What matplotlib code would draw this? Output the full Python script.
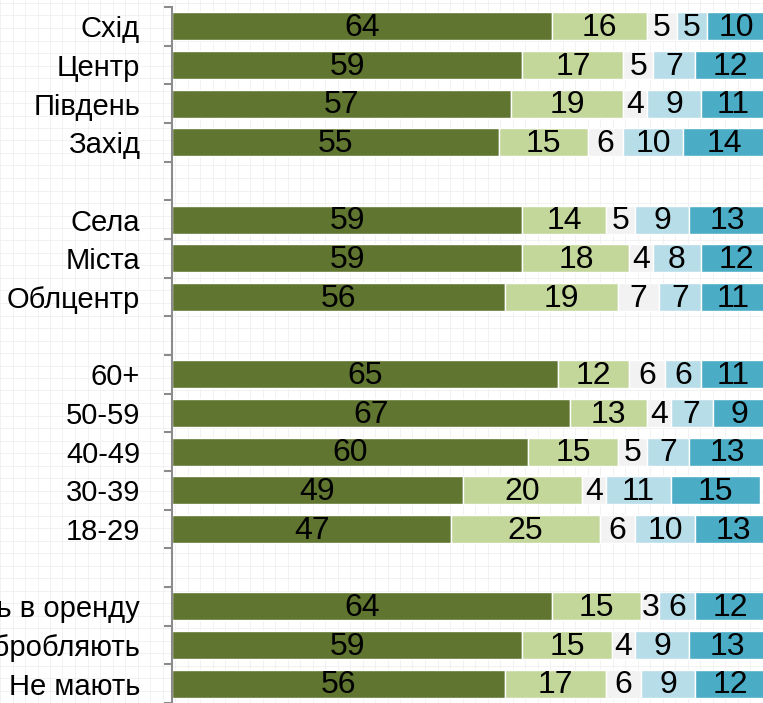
import matplotlib.pyplot as plt
import numpy as np

# rows top to bottom, "" marks the blank gap rows
labels = ["Схід", "Центр", "Південь", "Захід", "",
          "Села", "Міста", "Облцентр", "",
          "60+", "50-59", "40-49", "30-39", "18-29", "",
          "Здають в оренду", "Обробляють", "Не мають"]

s1 = [64, 59, 57, 55, None, 59, 59, 56, None, 65, 67, 60, 49, 47, None, 64, 59, 56]
s2 = [16, 17, 19, 15, None, 14, 18, 19, None, 12, 13, 15, 20, 25, None, 15, 15, 17]
s3 = [5, 5, 4, 6, None, 5, 4, 7, None, 6, 4, 5, 4, 6, None, 3, 4, 6]
s4 = [5, 7, 9, 10, None, 9, 8, 7, None, 6, 7, 7, 11, 10, None, 6, 9, 9]
s5 = [10, 12, 11, 14, None, 13, 12, 11, None, 11, 9, 13, 15, 13, None, 12, 13, 12]

colors = ["#5f7530", "#c4d79b", "#f2f2f2", "#b7dde8", "#4bacc6"]

plt.rcParams['font.family'] = ['Liberation Sans', 'DejaVu Sans']

fig = plt.figure(figsize=(7.63, 7.03), dpi=100)

# faint graph-paper background
bg = fig.add_axes([0, 0, 1, 1], zorder=0)
for v in np.arange(0, 1, 12.5 / 763):
    bg.axvline(v, color="#f0f0f0", lw=0.6)
for v in np.arange(0, 1, 12.5 / 703):
    bg.axhline(v, color="#f0f0f0", lw=0.6)
bg.set_xlim(0, 1)
bg.set_ylim(0, 1)
bg.axis("off")

ax = fig.add_axes([172 / 763, 0, 594 / 763, 696 / 703], zorder=1)
ax.patch.set_alpha(0)

y = np.arange(len(labels))
series = [s1, s2, s3, s4, s5]
for i in y:
    if s1[i] is None:
        continue
    left = 0
    for s, c in zip(series, colors):
        v = s[i]
        ax.barh(i, v, left=left, height=0.72, color=c, edgecolor="white", linewidth=1)
        ax.text(left + v / 2, i + 0.04, str(v), ha="center", va="center", fontsize=23, color="black")
        left += v

ax.set_xlim(0, 100)
ax.set_ylim(len(labels) - 0.5, -0.5)
ax.set_yticks(y)
ax.set_yticklabels(labels, fontsize=21)
ax.tick_params(axis="y", which="major", length=0, pad=23)
ax.set_yticks(np.arange(-0.5, len(labels), 1), minor=True)
ax.tick_params(axis="y", which="minor", length=6, width=1.5, color="#8c8c8c")
ax.set_xticks([])
for sp in ["top", "right", "bottom"]:
    ax.spines[sp].set_visible(False)
ax.spines["left"].set_color("#8c8c8c")
ax.spines["left"].set_linewidth(1.5)

fig.savefig("out.png", dpi=100)
